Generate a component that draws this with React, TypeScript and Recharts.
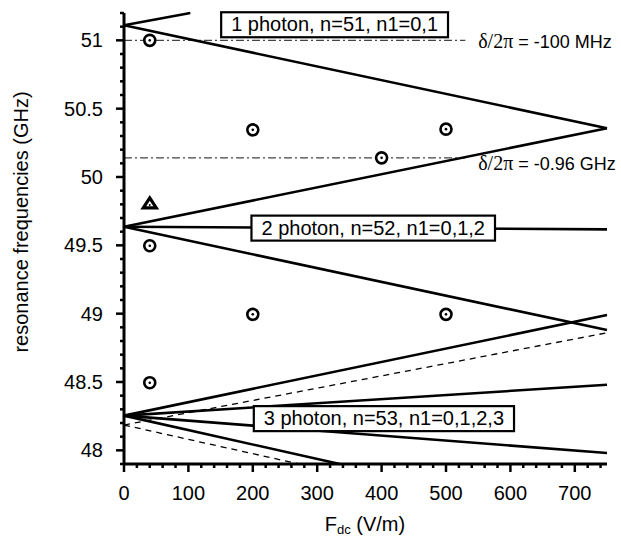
import React from 'react';
import { ComposedChart, Line, Scatter, XAxis, YAxis } from 'recharts';

const FONT = '"Liberation Sans", Arial, Helvetica, sans-serif';
const SERIF = '"Liberation Serif", "Times New Roman", serif';

// tick values
const xTicks = [0, 20, 40, 60, 80, 100, 120, 140, 160, 180, 200, 220, 240, 260, 280, 300, 320, 340, 360, 380, 400, 420, 440, 460, 480, 500, 520, 540, 560, 580, 600, 620, 640, 660, 680, 700, 720, 740];
const yTicks = [47.9, 48.0, 48.1, 48.2, 48.3, 48.4, 48.5, 48.6, 48.7, 48.8, 48.9, 49.0, 49.1, 49.2, 49.3, 49.4, 49.5, 49.6, 49.7, 49.8, 49.9, 50.0, 50.1, 50.2, 50.3, 50.4, 50.5, 50.6, 50.7, 50.8, 50.9, 51.0, 51.1, 51.2];

// 1 photon, n=51
const p1Up = [{ x: 0, y: 51.11 }, { x: 103, y: 51.2 }];
const p1Down = [{ x: 0, y: 51.11 }, { x: 750, y: 50.357 }];
// 2 photon, n=52
const p2Up = [{ x: 0, y: 49.636 }, { x: 750, y: 50.357 }];
const p2Flat = [{ x: 0, y: 49.636 }, { x: 750, y: 49.617 }];
const p2Down = [{ x: 0, y: 49.636 }, { x: 750, y: 48.88 }];
// 3 photon, n=53
const p3Up = [{ x: 0, y: 48.254 }, { x: 750, y: 48.99 }];
const p3Mid = [{ x: 0, y: 48.254 }, { x: 750, y: 48.48 }];
const p3Low = [{ x: 0, y: 48.254 }, { x: 750, y: 47.98 }];
const p3Down = [{ x: 0, y: 48.254 }, { x: 335, y: 47.9 }];
const p3DashUp = [{ x: 0, y: 48.185 }, { x: 750, y: 48.86 }];
const p3DashDown = [{ x: 0, y: 48.185 }, { x: 272, y: 47.9 }];
// detuning lines
const det100 = [{ x: 0, y: 51.0 }, { x: 530, y: 51.0 }];
const det096 = [{ x: 0, y: 50.14 }, { x: 530, y: 50.14 }];

// measured resonances
const circlePts = [
  { x: 40, y: 51.0 },
  { x: 200, y: 50.345 },
  { x: 500, y: 50.35 },
  { x: 400, y: 50.14 },
  { x: 40, y: 49.497 },
  { x: 200, y: 48.995 },
  { x: 500, y: 48.995 },
  { x: 40, y: 48.495 },
];
const trianglePts = [{ x: 40, y: 49.807 }];

// annotations
const boxLabels = [
  { x: 327, y: 51.114, text: '1 photon, n=51, n1=0,1' },
  { x: 387, y: 49.626, text: '2 photon, n=52, n1=0,1,2' },
  { x: 403.6, y: 48.232, text: '3 photon, n=53, n1=0,1,2,3' },
];
const detLabels = [
  { x: 550, y: 50.942, sym: 'δ/2π', rest: ' = -100 MHz' },
  { x: 550, y: 50.05, sym: 'δ/2π', rest: ' = -0.96 GHz' },
];

let measureCtx: CanvasRenderingContext2D | null = null;
function textWidth(t: string, font: string): number {
  if (!measureCtx) {
    const c = document.createElement('canvas');
    measureCtx = c.getContext('2d');
  }
  if (!measureCtx) return t.length * 10;
  measureCtx.font = font;
  return measureCtx.measureText(t).width;
}

function XTick(props: any) {
  const { x, y, payload } = props;
  const v = payload.value;
  const major = Math.abs(v % 100) < 1e-6;
  return (
    <g>
      <line x1={x} x2={x} y1={y} y2={y + (major ? 8 : 4)} stroke="#000" strokeWidth={2.5} />
      {major && (
        <text x={x} y={y + 36} textAnchor="middle" fontSize={20} fontFamily={FONT} fill="#000">
          {v}
        </text>
      )}
    </g>
  );
}

function YTick(props: any) {
  const { x, y, payload } = props;
  const v = payload.value;
  const major = Math.abs(v * 2 - Math.round(v * 2)) < 1e-6 && v >= 48 - 1e-6 && v <= 51 + 1e-6;
  const label = Math.abs(v - Math.round(v)) < 1e-6 ? String(Math.round(v)) : v.toFixed(1);
  return (
    <g>
      <line x1={x - (major ? 8 : 4)} x2={x} y1={y} y2={y} stroke="#000" strokeWidth={2.5} />
      {major && (
        <text x={x - 21} y={y + 7} textAnchor="end" fontSize={20} fontFamily={FONT} fill="#000">
          {label}
        </text>
      )}
    </g>
  );
}

function CircleDot(props: any) {
  const { cx, cy } = props;
  return (
    <g>
      <circle cx={cx} cy={cy} r={5.5} fill="#fff" stroke="#000" strokeWidth={2.6} />
      <circle cx={cx} cy={cy} r={1.3} fill="#000" />
    </g>
  );
}

function TriangleDot(props: any) {
  const { cx, cy } = props;
  const pts = `${cx},${cy - 5.5} ${cx - 6.5},${cy + 4.5} ${cx + 6.5},${cy + 4.5}`;
  return (
    <g>
      <polygon points={pts} fill="#fff" stroke="#000" strokeWidth={3.2} strokeLinejoin="miter" />
      <circle cx={cx} cy={cy + 1.5} r={1} fill="#000" />
    </g>
  );
}

function BoxLabel(props: any) {
  const { cx, cy, payload } = props;
  const t = payload.text;
  const w = textWidth(t, `20px ${FONT}`) + 20;
  const h = 25;
  return (
    <g>
      <rect x={cx - w / 2} y={cy - h / 2} width={w} height={h} fill="#fff" stroke="#000" strokeWidth={2.2} />
      <text x={cx} y={cy + 6.5} textAnchor="middle" fontSize={20} fontFamily={FONT} fill="#000">
        {t}
      </text>
    </g>
  );
}

function DetLabel(props: any) {
  const { cx, cy, payload } = props;
  return (
    <text x={cx} y={cy} fontSize={18} fontFamily={FONT} fill="#000">
      <tspan fontFamily={SERIF} fontSize={20}>{payload.sym}</tspan>
      <tspan>{payload.rest}</tspan>
    </text>
  );
}

const solid = { stroke: '#000', strokeWidth: 2.6, dot: false, activeDot: false, isAnimationActive: false, type: 'linear' as const, dataKey: 'y' };
const dashed = { ...solid, strokeWidth: 1.3, strokeDasharray: '6 5' };
const dashDot = { ...solid, stroke: '#444', strokeWidth: 1.1, strokeDasharray: '8 3 2 3' };

export default function App() {
  return (
    <div style={{ position: 'absolute', left: 0, top: 0, width: 621, height: 536, background: '#fff' }}>
      <ComposedChart width={621} height={536} margin={{ top: 13, right: 14, bottom: 0, left: 0 }}>
        <XAxis
          type="number"
          dataKey="x"
          domain={[0, 750]}
          ticks={xTicks}
          interval={0}
          height={72}
          tickSize={0}
          tickMargin={0}
          tickLine={false}
          tick={(p: any) => <XTick {...p} />}
          axisLine={{ stroke: '#000', strokeWidth: 3 }}
        />
        <YAxis
          type="number"
          dataKey="y"
          domain={[47.9, 51.2]}
          ticks={yTicks}
          interval={0}
          width={124}
          tickSize={0}
          tickMargin={0}
          tickLine={false}
          tick={(p: any) => <YTick {...p} />}
          axisLine={{ stroke: '#000', strokeWidth: 3 }}
        />
        <Line data={det100} {...dashDot} />
        <Line data={det096} {...dashDot} />
        <Line data={p1Up} {...solid} />
        <Line data={p1Down} {...solid} />
        <Line data={p2Up} {...solid} />
        <Line data={p2Flat} {...solid} />
        <Line data={p2Down} {...solid} />
        <Line data={p3Up} {...solid} />
        <Line data={p3Mid} {...solid} />
        <Line data={p3Low} {...solid} />
        <Line data={p3Down} {...solid} />
        <Line data={p3DashUp} {...dashed} />
        <Line data={p3DashDown} {...dashed} />
        <Scatter data={circlePts} dataKey="y" shape={(p: any) => <CircleDot {...p} />} isAnimationActive={false} />
        <Scatter data={trianglePts} dataKey="y" shape={(p: any) => <TriangleDot {...p} />} isAnimationActive={false} />
        <Scatter data={boxLabels} dataKey="y" shape={(p: any) => <BoxLabel {...p} />} isAnimationActive={false} />
        <Scatter data={detLabels} dataKey="y" shape={(p: any) => <DetLabel {...p} />} isAnimationActive={false} />
        <text x={28} y={222} transform="rotate(-90 28 222)" textAnchor="middle" fontSize={20} fontFamily={FONT} fill="#000">
          resonance frequencies (GHz)
        </text>
        <text x={365} y={531} textAnchor="middle" fontSize={20} fontFamily={FONT} fill="#000">
          F<tspan fontSize={13} dy={3}>dc</tspan>
          <tspan dy={-3}> (V/m)</tspan>
        </text>
      </ComposedChart>
    </div>
  );
}
